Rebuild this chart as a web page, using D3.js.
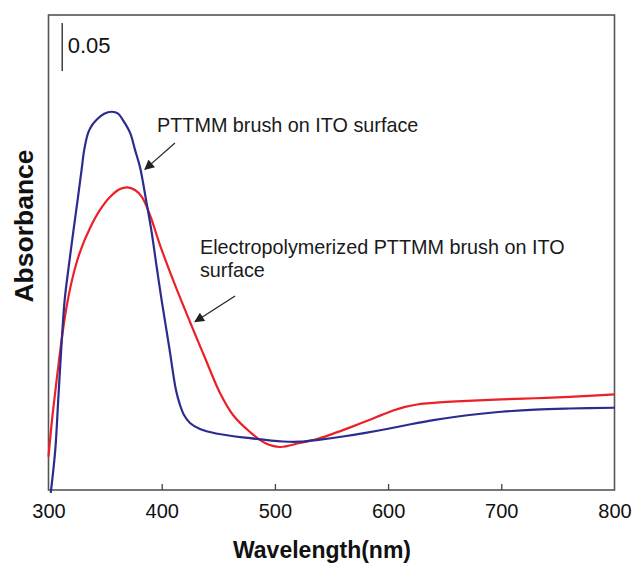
<!DOCTYPE html>
<html>
<head>
<meta charset="utf-8">
<script src="https://cdn.jsdelivr.net/npm/d3@7"></script>
<style>
  html, body { margin: 0; padding: 0; background: #fff; }
  svg { display: block; font-family: "Liberation Sans", Arial, sans-serif; }
</style>
</head>
<body>
<svg id="chart" width="634" height="563"></svg>
<script>
// UV-vis absorbance spectra (offset absorbance units, baseline at plot bottom)
const brushWavelength = [302, 306, 308.6, 311.2, 314.3, 318, 321.8, 325.7, 329.5, 331.5, 335, 338.5, 342.7, 349.2, 355.9,
  361.5, 365.9, 372.1, 376.5, 380.9, 386.2, 391.2, 395.6, 399.9, 406.6, 412.6, 416.2, 419.7, 425, 433.8,
  448, 478, 507, 522, 540, 560, 580, 600, 620, 640, 660, 680, 700, 730, 760, 800];
const brushAbsorbance = [-0.003, 0.042, 0.094, 0.146, 0.198, 0.234, 0.268, 0.302, 0.336, 0.354, 0.372, 0.380, 0.386, 0.392, 0.394,
  0.392, 0.385, 0.372, 0.354, 0.336, 0.302, 0.268, 0.232, 0.198, 0.149, 0.1042, 0.0885, 0.0781, 0.0698, 0.0635,
  0.0589, 0.054, 0.0505, 0.0503, 0.0525, 0.0557, 0.0595, 0.0638, 0.0685, 0.0728, 0.0763, 0.0792, 0.0815, 0.0838, 0.0849, 0.0857];

const electroWavelength = [300, 303.1, 307.2, 311, 315.5, 320.8, 327.8, 336.7, 345.5, 354.3, 363.2, 369.6, 376.4,
  382.6, 389.6, 398.5, 410, 425, 438.3, 451.5, 463, 478, 491.3, 504.5, 522.1, 537, 551, 566, 581, 595, 605, 615,
  627, 640, 670, 700, 730, 760, 800];
const electroAbsorbance = [0.0347, 0.0729, 0.1146, 0.151, 0.1875, 0.2188, 0.2479, 0.2729, 0.2917, 0.3052, 0.3135, 0.3153, 0.3125,
  0.3052, 0.2865, 0.2552, 0.2188, 0.175, 0.1375, 0.101, 0.0781, 0.0604, 0.049, 0.0448, 0.049, 0.0530, 0.0585, 0.0650,
  0.0718, 0.0785, 0.0830, 0.0866, 0.0893, 0.0907, 0.0928, 0.0944, 0.0956, 0.097, 0.0997];

const xTickValues = [300, 400, 500, 600, 700, 800];
const scaleBarSize = 0.05;

const svg = d3.select("#chart");
const plotLeft = 48.5, plotRight = 614.5, plotTop = 15, plotBottom = 490;

const x = d3.scaleLinear().domain([300, 800]).range([plotLeft, plotRight]);
const y = d3.scaleLinear().domain([0, 0.4948]).range([plotBottom, plotTop]);

// Plot frame
svg.append("rect")
  .attr("x", plotLeft).attr("y", plotTop)
  .attr("width", plotRight - plotLeft).attr("height", plotBottom - plotTop)
  .attr("fill", "none").attr("stroke", "#555").attr("stroke-width", 1.6);

// Bottom axis: inward ticks, labels below
const xAxis = d3.axisBottom(x).tickValues(xTickValues).tickSize(-6).tickPadding(14).tickFormat(d3.format("d"));
const gx = svg.append("g").attr("transform", `translate(0,${plotBottom})`).call(xAxis);
gx.select(".domain").remove();
gx.selectAll(".tick line").attr("stroke", "#444").attr("stroke-width", 1.3)
  .filter(d => d === 300 || d === 800).remove();
gx.selectAll(".tick text").attr("font-size", 20).attr("fill", "#111")
  .attr("font-family", "Liberation Sans, Arial, sans-serif");

// Axis titles
svg.append("text")
  .attr("x", 322).attr("y", 558)
  .attr("text-anchor", "middle").attr("font-size", 23).attr("font-weight", "bold").attr("fill", "#111")
  .text("Wavelength(nm)");
svg.append("text")
  .attr("transform", `translate(33,${226}) rotate(-90)`)
  .attr("text-anchor", "middle").attr("font-size", 26.5).attr("font-weight", "bold").attr("fill", "#111")
  .text("Absorbance");

// Spectra
const line = d3.line().x(d => x(d[0])).y(d => y(d[1])).curve(d3.curveCatmullRom.alpha(0.5));
const brush = brushWavelength.map((w, i) => [w, brushAbsorbance[i]]);
const electro = electroWavelength.map((w, i) => [w, electroAbsorbance[i]]);

svg.append("path").datum(electro).attr("d", line)
  .attr("fill", "none").attr("stroke", "#ec2027").attr("stroke-width", 2.2);
svg.append("path").datum(brush).attr("d", line)
  .attr("fill", "none").attr("stroke", "#2b2c8e").attr("stroke-width", 2.2);

// Absorbance scale bar
const barTop = 0.4865;
svg.append("line")
  .attr("x1", x(312.1)).attr("x2", x(312.1))
  .attr("y1", y(barTop)).attr("y2", y(barTop - scaleBarSize))
  .attr("stroke", "#222").attr("stroke-width", 1.3);
svg.append("text")
  .attr("x", x(317)).attr("y", y(0.4552))
  .attr("font-size", 22).attr("fill", "#111")
  .text(d3.format(".2f")(scaleBarSize));

// Annotations
svg.append("defs").append("marker")
  .attr("id", "head").attr("viewBox", "0 0 10 10")
  .attr("refX", 9).attr("refY", 5)
  .attr("markerWidth", 11).attr("markerHeight", 10)
  .attr("markerUnits", "userSpaceOnUse").attr("orient", "auto")
  .append("path").attr("d", "M0,0 L10,5 L0,10 z").attr("fill", "#222");

const annotations = [
  { lines: ["PTTMM brush on ITO surface"], tx: 395.9, ty: 0.3729, from: [411.7, 0.3615], to: [385.2, 0.334] },
  { lines: ["Electropolymerized PTTMM brush on ITO", "surface"], tx: 433.8, ty: 0.2458, from: [464.8, 0.2021], to: [429.4, 0.1753] }
];
annotations.forEach(a => {
  const t = svg.append("text").attr("x", x(a.tx)).attr("y", y(a.ty))
    .attr("font-size", 19.8).attr("fill", "#1a1a1a");
  a.lines.forEach((s, i) => t.append("tspan").attr("x", x(a.tx)).attr("dy", i === 0 ? 0 : 23).text(s));
  svg.append("line")
    .attr("x1", x(a.from[0])).attr("y1", y(a.from[1]))
    .attr("x2", x(a.to[0])).attr("y2", y(a.to[1]))
    .attr("stroke", "#222").attr("stroke-width", 1.2).attr("marker-end", "url(#head)");
});
</script>
</body>
</html>
